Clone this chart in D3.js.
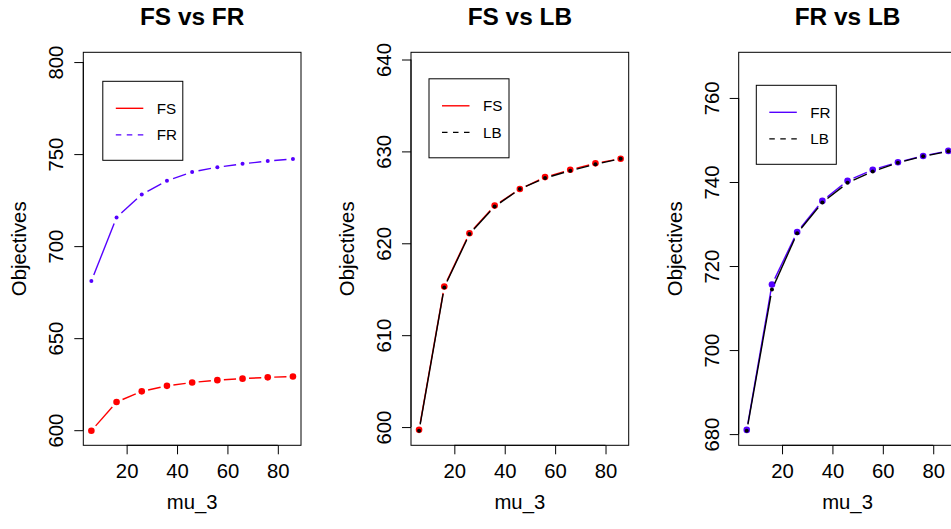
<!DOCTYPE html>
<html>
<head>
<meta charset="utf-8">
<script src="https://cdn.jsdelivr.net/npm/d3@7"></script>
<style>
  body { margin: 0; background: #fff; }
  svg { display: block; font-family: "Liberation Sans", Arial, sans-serif; }
</style>
</head>
<body>
<svg id="chart" width="951" height="529"></svg>
<script>
// values
const mu3 = [6, 16, 26, 36, 46, 56, 66, 76, 86];
const fs = [599.7, 615.3, 621.1, 624.1, 625.9, 627.2, 628.0, 628.7, 629.2];
const fr = [681.0, 715.6, 728.1, 735.5, 740.3, 742.9, 744.7, 746.2, 747.4];
const lbVsFs = [599.6, 615.2, 621.0, 624.0, 625.9, 627.1, 627.9, 628.6, 629.2];
const lbVsFr = [680.8, 714.4, 727.8, 735.1, 739.8, 742.5, 744.6, 746.1, 747.3];

const xTicks = [20, 40, 60, 80];
const yTicksFsFr = [600, 650, 700, 750, 800];
const yTicksFsLb = [600, 610, 620, 630, 640];
const yTicksFrLb = [680, 700, 720, 740, 760];
const titles = ['FS vs FR', 'FS vs LB', 'FR vs LB'];
const yPads = [50, 10, 20];

const RED = '#FF0000';
const VIOLET = '#5500FF';

const panels = [
  {
    title: titles[0], yTicks: yTicksFsFr, pad: yPads[0], legend: [19.5, 29],
    series: [
      { name: 'FS', values: fs, color: RED, r: 3.3, dash: null },
      { name: 'FR', values: fr, color: VIOLET, r: 2, dash: '5.5,5.5' },
    ],
  },
  {
    title: titles[1], yTicks: yTicksFsLb, pad: yPads[1], legend: [18, 26.5],
    series: [
      { name: 'FS', values: fs, color: RED, r: 3.3, dash: null },
      { name: 'LB', values: lbVsFs, color: '#000', r: 2, dash: '5.5,5.5' },
    ],
  },
  {
    title: titles[2], yTicks: yTicksFrLb, pad: yPads[2], legend: [17.6, 33],
    series: [
      { name: 'FR', values: fr, color: VIOLET, r: 3.3, dash: null },
      { name: 'LB', values: lbVsFr, color: '#000', r: 2, dash: '5.5,5.5' },
    ],
  },
];

const TOP = 52.3;
const BOTTOM = 445.3;
const BOX_W = 217.7;
const STEP = 327.7;
const GAP = 6.5;

// R style 4% axis extension
function extend(lo, hi) {
  const d = (hi - lo) * 0.04;
  return [lo - d, hi + d];
}

const svg = d3.select('#chart');

panels.forEach((p, i) => {
  const left = 83.3 + STEP * i;
  const all = p.series.flatMap((s) => s.values);
  const x = d3.scaleLinear().domain(extend(d3.min(mu3), d3.max(mu3))).range([left, left + BOX_W]);
  const y = d3.scaleLinear().domain(extend(d3.min(all), d3.max(all) + p.pad)).range([BOTTOM, TOP]);

  const g = svg.append('g');

  // title
  g.append('text')
    .attr('x', left + BOX_W / 2)
    .attr('y', 25)
    .attr('text-anchor', 'middle')
    .style('font-size', '24.4px')
    .style('font-weight', 'bold')
    .text(p.title);

  // plot box
  g.append('rect')
    .attr('x', left).attr('y', TOP)
    .attr('width', BOX_W).attr('height', BOTTOM - TOP)
    .attr('fill', 'none').attr('stroke', '#000').attr('stroke-width', 1);

  // x axis
  const xAxis = g.append('g')
    .attr('transform', `translate(0,${BOTTOM})`)
    .call(d3.axisBottom(x).tickValues(xTicks).tickSize(9).tickPadding(9).tickFormat(d3.format('d')));
  xAxis.select('.domain')
    .attr('d', `M${x(xTicks[0])},0H${x(xTicks[xTicks.length - 1])}`);
  xAxis.selectAll('text').style('font-size', '20.3px').attr('fill', '#000');
  xAxis.selectAll('line').attr('stroke', '#000');

  // y axis, labels rotated like R
  const yAxis = g.append('g')
    .attr('transform', `translate(${left},0)`)
    .call(d3.axisLeft(y).tickValues(p.yTicks).tickSize(9).tickFormat(d3.format('d')));
  yAxis.select('.domain')
    .attr('d', `M0,${y(p.yTicks[0])}V${y(p.yTicks[p.yTicks.length - 1])}`);
  yAxis.selectAll('line').attr('stroke', '#000');
  yAxis.selectAll('text')
    .attr('x', null).attr('dy', null)
    .attr('transform', 'translate(-20,0) rotate(-90)')
    .attr('text-anchor', 'middle')
    .attr('fill', '#000')
    .style('font-size', '20.3px');

  // axis titles
  g.append('text')
    .attr('x', left + BOX_W / 2)
    .attr('y', 509)
    .attr('text-anchor', 'middle')
    .style('font-size', '20.3px')
    .text('mu_3');
  g.append('text')
    .attr('transform', `translate(${left - 57},${(TOP + BOTTOM) / 2}) rotate(-90)`)
    .attr('text-anchor', 'middle')
    .style('font-size', '20.3px')
    .text('Objectives');

  // lines with gaps at the points (type = "b") and the points
  p.series.forEach((s) => {
    const pts = mu3.map((m, k) => [x(m), y(s.values[k])]);
    const segs = d3.pairs(pts).map(([a, b]) => {
      const dx = b[0] - a[0];
      const dy = b[1] - a[1];
      const len = Math.hypot(dx, dy);
      if (len <= 2 * GAP) return null;
      const ux = dx / len;
      const uy = dy / len;
      return [a[0] + ux * GAP, a[1] + uy * GAP, b[0] - ux * GAP, b[1] - uy * GAP];
    }).filter((d) => d);

    g.append('g').selectAll('line').data(segs).enter().append('line')
      .attr('x1', (d) => d[0]).attr('y1', (d) => d[1])
      .attr('x2', (d) => d[2]).attr('y2', (d) => d[3])
      .attr('stroke', s.color).attr('stroke-width', 1.4);

    g.append('g').selectAll('circle').data(pts).enter().append('circle')
      .attr('cx', (d) => d[0]).attr('cy', (d) => d[1])
      .attr('r', s.r).attr('fill', s.color);
  });

  // legend
  const lx = left + p.legend[0];
  const ly = TOP + p.legend[1];
  const leg = g.append('g').attr('transform', `translate(${lx},${ly})`);
  leg.append('rect')
    .attr('width', 80).attr('height', 79)
    .attr('fill', '#fff').attr('stroke', '#000').attr('stroke-width', 1);
  p.series.forEach((s, k) => {
    const ry = 27 + k * 26.6;
    leg.append('line')
      .attr('x1', 13).attr('x2', 40.5)
      .attr('y1', ry).attr('y2', ry)
      .attr('stroke', s.color).attr('stroke-width', 1.4)
      .attr('stroke-dasharray', s.dash);
    leg.append('text')
      .attr('x', 54).attr('y', ry)
      .attr('dy', '0.36em')
      .style('font-size', '15.2px')
      .text(s.name);
  });
});
</script>
</body>
</html>
